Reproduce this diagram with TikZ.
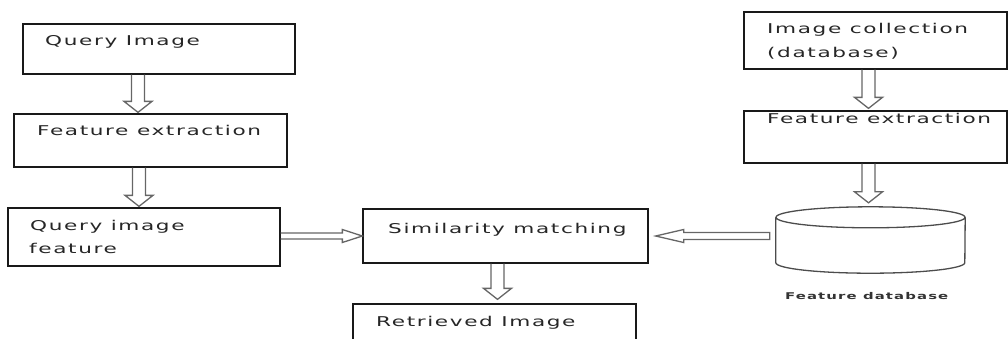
\documentclass[tikz,border=0pt]{standalone}
\usepackage{fontspec}
\usetikzlibrary{calc}
\newfontfamily\lblfont{DejaVu Sans}[FakeStretch=1.6,LetterSpace=12]
\newfontfamily\smlfont{DejaVu Sans}[FakeStretch=1.6,LetterSpace=12]
\newcommand\vblk[4]{%
  \draw[blk] let \p1=(#1.south), \p2=(#2.north) in
   (#3pt-6.5pt,\y1) -- (#3pt-6.5pt,\y2+#4pt+11pt) -- (#3pt-14pt,\y2+#4pt+11pt)
   -- (#3pt,\y2+#4pt) -- (#3pt+14pt,\y2+#4pt+11pt) -- (#3pt+6.5pt,\y2+#4pt+11pt)
   -- (#3pt+6.5pt,\y1);}
\begin{document}
\begin{tikzpicture}[x=1pt,y=-1pt,
  box/.style={draw=black!90,line width=1.3pt,inner sep=0pt},
  blk/.style={draw=black!60,line width=1.3pt,line join=miter},
  lbl/.style={anchor=base west,inner sep=0pt,text=black!85,font=\lblfont\fontsize{13.5}{16}\selectfont},
  sml/.style={anchor=base west,inner sep=0pt,text=black!80,font=\smlfont\bfseries\fontsize{9.3}{11}\selectfont}]
\useasboundingbox (0,0) rectangle (1008,338);
\clip (0,0) rectangle (1008,338);
% boxes
\node[box,minimum width=272pt,minimum height=50pt] (qi) at (159,49) {};
\node[box,minimum width=273pt,minimum height=53pt] (fe1) at (150.5,140.5) {};
\node[box,minimum width=272pt,minimum height=58pt] (qif) at (144,237) {};
\node[box,minimum width=285pt,minimum height=54pt] (sim) at (505.5,236) {};
\node[box,minimum width=283pt,minimum height=54pt] (ret) at (494.5,331) {};
\node[box,minimum width=263pt,minimum height=57pt] (ic) at (875.5,40.5) {};
\node[box,minimum width=263pt,minimum height=52pt] (fe2) at (875.5,137) {};
% feature database cylinder
\node[inner sep=0pt,minimum width=189pt,minimum height=66pt] (db) at (870.5,240) {};
\draw[draw=black!70,line width=1.3pt]
  ($(db.north)+(0,-10.5pt)$) ellipse [x radius=94.5pt,y radius=10.5pt]
  ($(db.north west)+(0,-10.5pt)$) -- ($(db.south west)+(0,10.5pt)$)
  arc[start angle=180,end angle=360,x radius=94.5pt,y radius=10.5pt]
  -- ($(db.north east)+(0,-10.5pt)$);
% labels
\node[lbl] (tqi) at (45,45) {Query Image};
\node[lbl] (tfe1) at (37,135) {Feature extraction};
\node[lbl] (tqif1) at (30,230) {Query image};
\node[lbl] (tqif2) at (29,253) {feature};
\node[lbl] (tsim) at (388,233) {Similarity matching};
\node[lbl] (tret) at (376,326) {Retrieved Image};
\node[lbl] (tic1) at (767,33) {Image collection};
\node[lbl] (tic2) at (767,57) {(database)};
\node[lbl] (tfe2) at (767,123) {Feature extraction};
\node[sml] (tdb) at (785,299) {Feature database};
% vertical block arrows
\vblk{qi}{fe1}{138}{1}
\vblk{fe1}{qif}{139}{1}
\vblk{sim}{ret}{497.5}{4}
\vblk{ic}{fe2}{868.5}{2}
\vblk{fe2}{db}{868.5}{4}
% horizontal block arrows
\draw[blk] let \p1=(qif.east), \p2=(sim.west) in
  (\x1,\y2+3pt) -- (\x2-20pt,\y2+3pt) -- (\x2-20pt,\y2+6.5pt) -- (\x2,\y2)
  -- (\x2-20pt,\y2-6.5pt) -- (\x2-20pt,\y2-3pt) -- (\x1,\y2-3pt);
\draw[blk] let \p1=(db.west), \p2=(sim.east) in
  (\x1-6pt,\y2+3.5pt) -- (\x2+35pt,\y2+3.5pt) -- (\x2+35pt,\y2+6.5pt) -- (\x2+7pt,\y2)
  -- (\x2+35pt,\y2-6.5pt) -- (\x2+35pt,\y2-3.5pt) -- (\x1-6pt,\y2-3.5pt) -- cycle;
\end{tikzpicture}
\end{document}
